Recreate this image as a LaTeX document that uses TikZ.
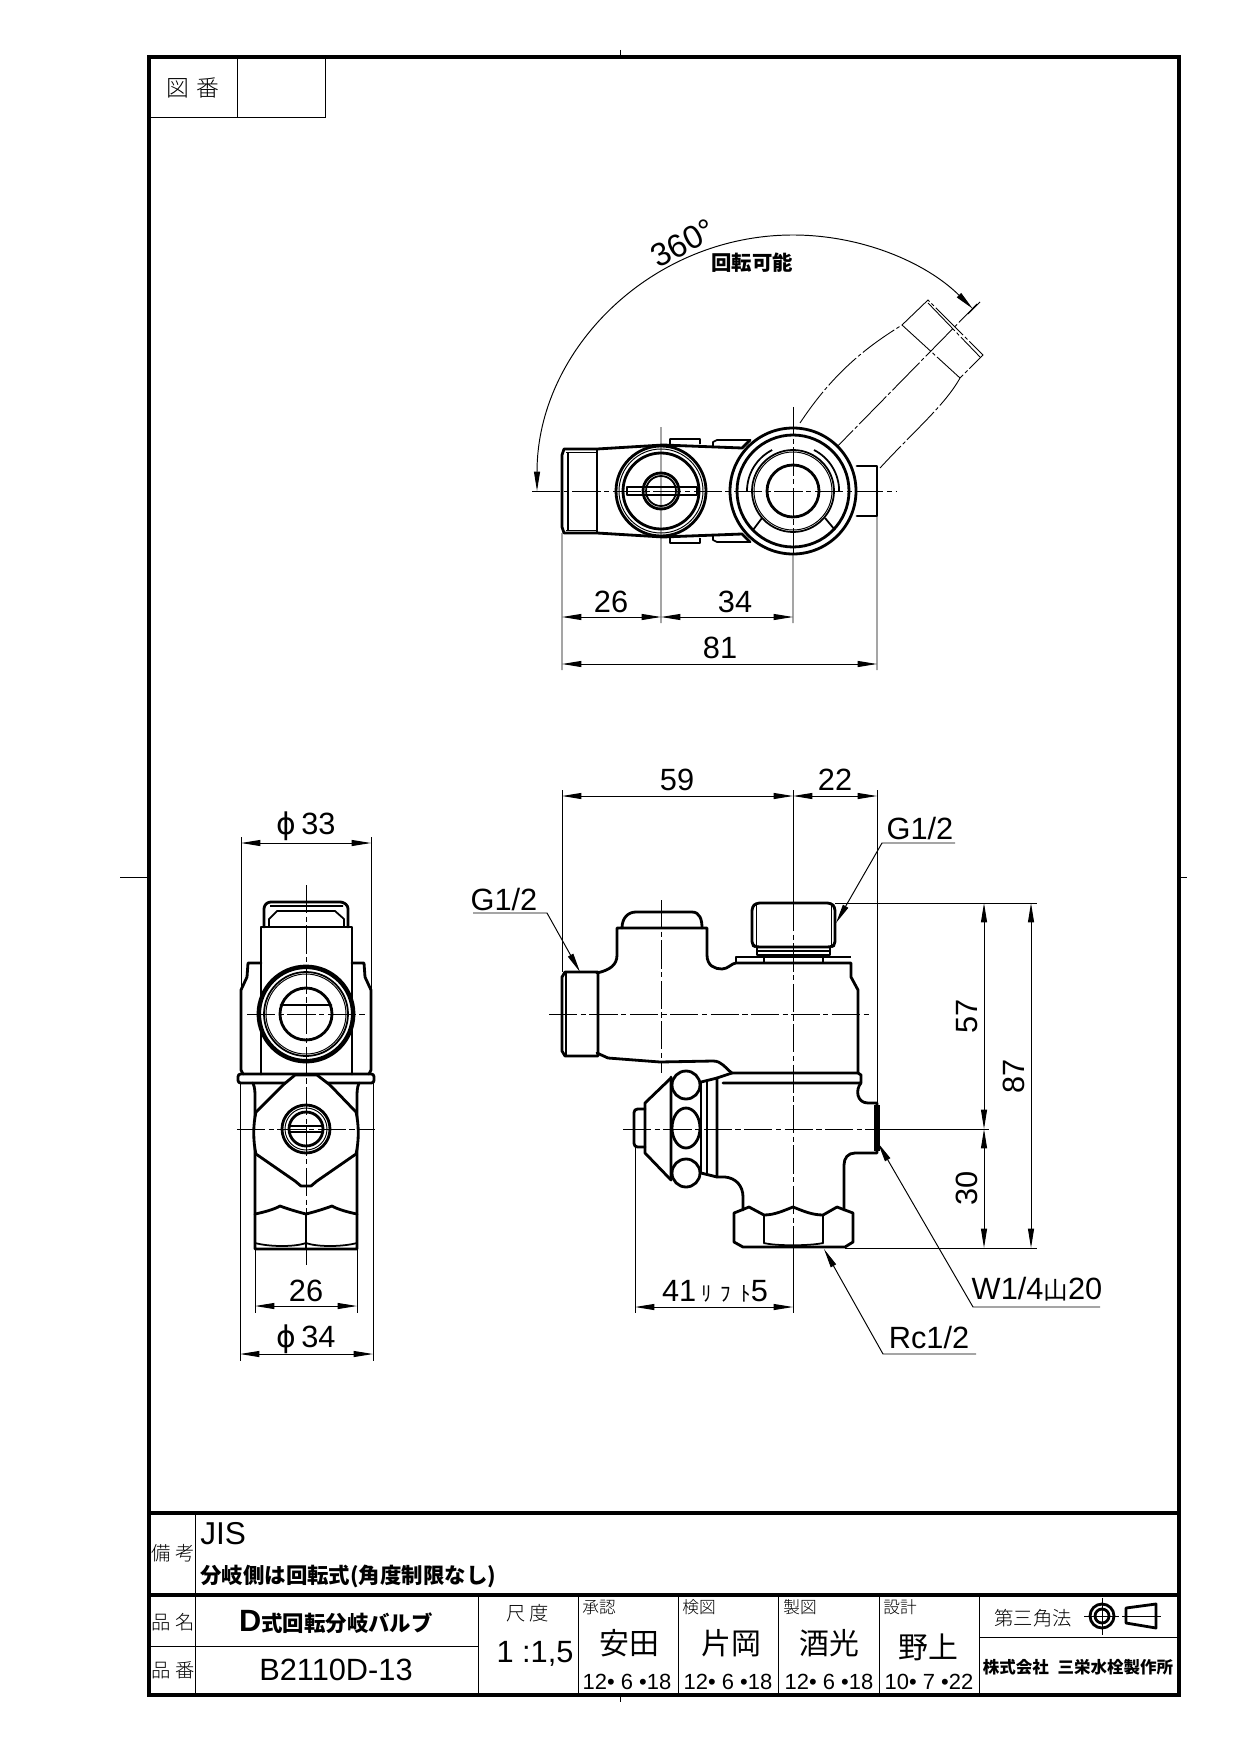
\documentclass[tikz,border=0pt]{standalone}
\usepackage{fontspec}
\usepackage{tikz}
\usetikzlibrary{arrows.meta}
\setmainfont{Liberation Sans}
\newfontfamily\jpfont{Noto Sans CJK JP}
\newfontfamily\jpthin{Noto Sans CJK JP Light}
\newfontfamily\symfont{DejaVu Sans}
\newcommand{\fs}[1]{\fontsize{#1}{#1}\selectfont}

\tikzset{
    bodyline/.style={line width=1.6pt,line join=round,line cap=round},
    midline/.style={line width=1pt,line join=round},
    thinline/.style={line width=.55pt},
    frameline/.style={line width=2pt},
    cline/.style={line width=.55pt,dash pattern=on 16pt off 2pt on 3pt off 2pt},
    phantomline/.style={line width=.5pt,dash pattern=on 22pt off 1.5pt on 2pt off 1.5pt},
    dimline/.style={line width=.55pt,{Triangle[length=11pt,width=3.4pt]}-{Triangle[length=11pt,width=3.4pt]}},
    leader/.style={line width=.55pt,-{Triangle[length=11pt,width=3.4pt]}},
    dimtext/.style={inner sep=0pt,font=\fs{17.5}},
    jptext/.style={inner sep=0pt,font=\jpthin\fs{11}},
    jpbold/.style={inner sep=0pt,font=\jpfont\bfseries\fs{12.2}},
    jpname/.style={inner sep=0pt,font=\jpfont\fs{17}},
    datetext/.style={inner sep=0pt,font=\fs{12.5}}
}

\begin{document}
\begin{tikzpicture}[x=.02cm,y=.02cm,yscale=-1]
    \useasboundingbox (0,0) rectangle (1241,1753);

    % sheet
    \draw[frameline] (149,57) rectangle (1179,1695);
    \draw[thinline] (620,50) -- (620,57) (620,1695) -- (620,1702) (120,877) -- (149,877) (1179,877) -- (1187,877);
    \draw[thinline] (149,117) -- (325,117) -- (325,57) (237,57) -- (237,117);
    \node[jptext,font=\jpthin\fs{13}] (zuban) at (193,88) {図\hspace{4pt}番};

    % title block
    \draw[frameline] (149,1513) -- (1179,1513) (149,1595) -- (1179,1595);
    \draw[thinline] (195,1513) -- (195,1695) (149,1646) -- (478,1646)
        (478,1595) -- (478,1695) (578,1595) -- (578,1695) (678,1595) -- (678,1695)
        (778,1595) -- (778,1695) (879,1595) -- (879,1695) (979,1595) -- (979,1695) (979,1637) -- (1179,1637);
    \node[jptext] (biko) at (173,1553) {備\hspace{3pt}考};
    \node[dimtext,font=\fs{18},anchor=west] (jis) at (200,1534) {JIS};
    \node[jpbold,anchor=west] (note) at (200,1576) {分岐側は回転式(角度制限なし)};
    \node[jptext] (hinmei) at (173,1622) {品\hspace{3pt}名};
    \node[jptext] (hinban) at (173,1670) {品\hspace{3pt}番};
    \node[jpbold] (name) at (336,1622) {{\fontspec{Liberation Sans}\fs{17.5}D}式回転分岐バルブ};
    \node[dimtext] (number) at (336,1670) {B2110D-13};
    \node[jptext] (shakudo) at (528,1613) {尺\hspace{2pt}度};
    \node[dimtext] (scale) at (535,1654) {1 :1,5};
    \node[jptext,font=\jpthin\fs{9.5},anchor=west] (shonin) at (582,1607) {承認};
    \node[jptext,font=\jpthin\fs{9.5},anchor=west] (kenzu) at (682,1607) {検図};
    \node[jptext,font=\jpthin\fs{9.5},anchor=west] (seizu) at (783,1607) {製図};
    \node[jptext,font=\jpthin\fs{9.5},anchor=west] (sekkei) at (883,1607) {設計};
    \node[jpname] (yasuda) at (629,1643) {安田};
    \node[jpname] (kataoka) at (731,1643) {片岡};
    \node[jpname] (sakko) at (829,1643) {酒光};
    \node[jpname] (nogami) at (928,1647) {野上};
    \node[datetext] (date1) at (627,1682) {12• 6 •18};
    \node[datetext] (date2) at (728,1682) {12• 6 •18};
    \node[datetext] (date3) at (829,1682) {12• 6 •18};
    \node[datetext] (date4) at (929,1682) {10• 7 •22};
    \node[jptext] (third) at (1033,1618) {第三角法};
    \node[jpbold,font=\jpfont\bfseries\fs{9.4}] (maker) at (1078,1667) {株式会社\hspace{5pt}三栄水栓製作所};
    \draw[bodyline] (1102,1616) circle[radius=12] (1102,1616) circle[radius=7];
    \draw[bodyline] (1126,1608) -- (1156,1604) -- (1156,1628) -- (1126,1623) -- cycle;
    \draw[thinline] (1084,1616) -- (1119,1616) (1102,1598) -- (1102,1635) (1122,1616) -- (1161,1616);

    % top view, swung outlet
    \draw[phantomline] (800,423) .. controls (835,370) and (870,345) .. (902,325) -- (928,300) -- (983,355) -- (960,378) .. controls (945,405) and (915,430) .. (880,468);
    \draw[phantomline] (902,325) -- (960,378) (928,303) -- (980,357) (826,458) -- (977,304);

    % top view, body
    \draw[bodyline] (562,455) -- (564,449) -- (597,449) -- (663,445) -- (742,448) -- (750,440)
        (562,455) -- (562,527) -- (564,533) -- (597,533) -- (663,537) -- (742,534) -- (750,542);
    \draw[line width=1.3pt] (568,452) -- (568,530) (597,449) -- (597,533);
    \draw[thinline] (566,452) -- (597,452) (566,530) -- (597,530);
    \draw[midline] (670,444) -- (670,439) -- (700,439) -- (700,444) (713,446) -- (713,442) -- (717,440) -- (750,440)
        (670,538) -- (670,543) -- (700,543) -- (700,538) (713,536) -- (713,540) -- (717,542) -- (750,542);
    \draw[bodyline] (857,466) -- (877,466) -- (877,516) -- (857,516);
    \draw[bodyline,fill=white] (661,491) circle[radius=45];
    \draw[bodyline] (661,491) circle[radius=38];
    \draw[thinline] (661,491) circle[radius=42];
    \draw[bodyline] (661,491) circle[radius=18];
    \draw[midline] (661,491) circle[radius=15];
    \draw[midline] (627,487) rectangle (697,495);
    \draw[bodyline,fill=white] (793,491) circle[radius=63];
    \draw[bodyline] (793,491) circle[radius=56];
    \draw[bodyline] (793,491) circle[radius=26];
    \draw[thinline] (793,491) circle[radius=39];
    \draw[midline] (793,491) circle[radius=41];
    \draw[midline] (747,491) arc[start angle=180,end angle=243,radius=46] (814,450) arc[start angle=297,end angle=360,radius=46];
    \draw[midline] (753,530) -- (762,518) (825,518) -- (835,530);

    % top view, centre lines and dimensions
    \draw[cline] (532,491) -- (896,491) (793,407) -- (793,555);
    \coordinate (tl) at (562,617);
    \coordinate (tm) at (661,617);
    \coordinate (tr) at (793,617);
    \coordinate (al) at (562,664);
    \coordinate (ar) at (877,664);
    \coordinate (arca) at (537,491);
    \draw[thinline] (562,533) -- (562,670) (661,427) -- (661,623) (793,555) -- (793,623) (877,516) -- (877,670) (980,302) -- (968,314);
    \path[dimline] (tl) edge (tm) (tm) edge (tr) (al) edge (ar);
    \draw[dimline] (arca) arc[start angle=180,end angle=314.6,radius=256];
    \node[dimtext,font=\fs{18.5},rotate=28] (turn) at (683,243) {360°};
    \node[jpbold,font=\jpfont\bfseries\fs{11.6}] (free) at (752,263) {回転可能};
    \node[dimtext] (l26) at (611,602) {26};
    \node[dimtext] (l34) at (735,602) {34};
    \node[dimtext] (l81) at (720,648) {81};

    % front view, knob
    \draw[bodyline] (671,1078) -- (645,1103) -- (645,1153) -- (671,1180);
    \draw[bodyline,rounded corners=2pt] (645,1109) -- (634,1109) -- (634,1147) -- (645,1147);
    \draw[bodyline] (671,1077) -- (671,1180) (717,1078) -- (717,1177) (701,1082) -- (717,1078) (701,1173) -- (717,1177);
    \draw[midline] (701,1082) -- (701,1173) (707,1081) -- (707,1174);
    \draw[bodyline,fill=white] (686,1085) circle[radius=14] (686,1173) circle[radius=14];
    \draw[bodyline,fill=white] (686,1128) ellipse[x radius=14,y radius=20];

    % front view, body
    \draw[bodyline] (597,973) .. controls (610,970) and (617,965) .. (617,955) -- (617,928) -- (707,928) -- (707,955) .. controls (707,966) and (715,969) .. (722,969) .. controls (728,969) and (732,963) .. (736,963) -- (851,963) -- (851,977) -- (858,990) -- (858,1073);
    \draw[bodyline] (597,1053) -- (608,1058) -- (660,1062) -- (713,1061) .. controls (722,1061) and (725,1068) .. (732,1073) -- (858,1073) -- (861,1075) -- (861,1083) -- (723,1083);
    \draw[bodyline] (732,1073) -- (717,1078);
    \draw[bodyline] (622,928) .. controls (622,918) and (628,912) .. (636,912) -- (692,912) .. controls (700,912) and (702,920) .. (702,928);
    \draw[bodyline] (562,977) -- (565,972) -- (598,972) -- (598,1056) -- (565,1056) -- (562,1051) -- cycle;
    \draw[midline] (566,972) -- (566,1056);
    \draw[bodyline,rounded corners=2pt] (756,947) -- (752,945) -- (752,907) -- (756,903) -- (831,903) -- (835,907) -- (835,945) -- (831,947) -- cycle;
    \draw[thinline] (756,905) -- (756,945) (831,905) -- (831,945);
    \draw[midline] (757,947) -- (757,955) -- (830,955) -- (830,947) (757,951) -- (830,951);
    \draw[midline] (736,963) -- (736,957) -- (851,957) (764,955) -- (764,963) (823,955) -- (823,963);
    \draw[bodyline] (861,1083) .. controls (855,1090) and (857,1103) .. (868,1103) -- (877,1103) -- (877,1153) -- (855,1153) .. controls (848,1153) and (844,1158) .. (844,1165) -- (844,1210);
    \draw[bodyline] (717,1177) -- (725,1177) .. controls (736,1178) and (743,1186) .. (743,1197) -- (743,1210);
    \draw[line width=3pt] (877,1105) -- (877,1151);

    % front view, nut
    \draw[bodyline] (734,1213) -- (749,1207) -- (764,1215) .. controls (775,1215) and (785,1210) .. (793,1207) .. controls (801,1210) and (811,1215) .. (823,1215) -- (837,1207) -- (853,1213)
        -- (853,1242) -- (845,1247) -- (743,1247) -- (734,1242) -- cycle;
    \draw[bodyline] (764,1215) -- (764,1243) (823,1215) -- (823,1243);
    \draw[midline] (764,1243) .. controls (775,1246) and (810,1246) .. (823,1243);

    % front view, centre lines and dimensions
    \draw[cline] (549,1014) -- (870,1014) (623,1129) -- (880,1129) (661,900) -- (661,1073) (793,903) -- (793,1248);
    \coordinate (fl) at (562,796);
    \coordinate (fm) at (793,796);
    \coordinate (fr) at (877,796);
    \coordinate (vs) at (984,903);
    \coordinate (vm) at (984,1129);
    \coordinate (ve) at (984,1248);
    \coordinate (ws) at (1031,903);
    \coordinate (we) at (1031,1248);
    \coordinate (ll) at (635,1307);
    \coordinate (lr) at (793,1307);
    \draw[thinline] (562,790) -- (562,972) (793,790) -- (793,903) (793,1248) -- (793,1313) (877,790) -- (877,1103) (835,903) -- (1037,903) (845,1248) -- (1037,1248) (880,1129) -- (989,1129) (635,1147) -- (635,1313);
    \path[dimline] (fl) edge (fm) (fm) edge (fr) (vs) edge (vm) (vm) edge (ve) (ws) edge (we) (ll) edge (lr);
    \node[dimtext] (l59) at (677,780) {59};
    \node[dimtext] (l22) at (835,780) {22};
    \node[dimtext,rotate=90] (l57) at (967,1016) {57};
    \node[dimtext,rotate=90] (l87) at (1014,1076) {87};
    \node[dimtext,rotate=90] (l30) at (967,1188) {30};
    \node[dimtext] (l41) at (715,1291) {41\hspace{3pt}{\jpfont\fs{12}ﾘ\hspace{5pt}ﾌ\hspace{5pt}ﾄ}5};

    % leaders
    \coordinate (gla) at (473,913);
    \coordinate (glb) at (547,913);
    \coordinate (glt) at (580,972);
    \coordinate (gra) at (955,843);
    \coordinate (grb) at (882,843);
    \coordinate (grt) at (836,923);
    \coordinate (wa) at (1100,1307);
    \coordinate (wb) at (973,1307);
    \coordinate (wt) at (878,1143);
    \coordinate (ra) at (976,1354);
    \coordinate (rb) at (883,1354);
    \coordinate (rt) at (824,1249);
    \draw[leader] (gla) -- (glb) -- (glt);
    \draw[leader] (gra) -- (grb) -- (grt);
    \draw[leader] (wa) -- (wb) -- (wt);
    \draw[leader] (ra) -- (rb) -- (rt);
    \node[dimtext] (gleft) at (504,900) {G1/2};
    \node[dimtext] (gright) at (920,829) {G1/2};
    \node[dimtext] (wthread) at (1037,1289) {W1/4{\jpfont\fs{14}山}20};
    \node[dimtext] (rthread) at (929,1337) {Rc1/2};

    % side view, body
    \draw[bodyline,rounded corners=1.5pt] (264,927) -- (264,906) -- (268,902) -- (343,902) -- (348,906) -- (348,927);
    \draw[midline] (269,927) -- (269,919) -- (277,911) -- (335,911) -- (344,919) -- (344,927) (270,906) -- (343,906);
    \draw[bodyline] (261,1074) -- (261,927) -- (352,927) -- (352,1074);
    \draw[bodyline] (261,963) -- (248,963) -- (247,977) -- (241,990) -- (241,1070) -- (243,1074) (352,963) -- (364,963) -- (365,977) -- (371,990) -- (371,1070) -- (369,1074);
    \draw[bodyline,rounded corners=1.5pt] (238,1074) rectangle (374,1083);
    \draw[bodyline] (253,1083) .. controls (255,1088) and (255,1092) .. (255,1097) -- (255,1249) -- (357,1249) -- (357,1097) .. controls (357,1092) and (357,1088) .. (359,1083);
    \draw[bodyline,fill=white] (256,1112) -- (283,1085) -- (295,1075) -- (317,1075) -- (330,1085) -- (356,1112) .. controls (359,1125) and (359,1141) .. (356,1154) -- (317,1181) -- (311,1186) -- (301,1186) -- (295,1181) -- (256,1154) .. controls (253,1141) and (253,1125) .. (256,1112) -- cycle;
    \draw[bodyline,fill=white] (306,1014) circle[radius=48];
    \draw[line width=1.2pt] (306,1014) circle[radius=46];
    \draw[thinline] (306,1014) circle[radius=40];
    \draw[midline] (306,1014) circle[radius=42];
    \draw[bodyline] (306,1014) circle[radius=26];
    \draw[bodyline] (281,1005) -- (331,1005);
    \draw[bodyline,fill=white] (306,1129) circle[radius=24];
    \draw[thinline] (306,1129) circle[radius=21];
    \draw[bodyline] (306,1129) circle[radius=17];
    \draw[midline] (289,1126) rectangle (323,1132);
    \draw[bodyline] (255,1214) .. controls (265,1212) and (275,1209) .. (280,1206) .. controls (288,1209) and (298,1212) .. (306,1214) .. controls (314,1212) and (324,1209) .. (332,1206) .. controls (337,1209) and (347,1212) .. (357,1214);
    \draw[midline] (255,1243) .. controls (270,1247) and (295,1247) .. (306,1243) .. controls (317,1247) and (342,1247) .. (357,1243) (306,1214) -- (306,1249);

    % side view, centre lines and dimensions
    \draw[cline] (247,1014) -- (366,1014) (237,1129) -- (375,1129) (306,885) -- (306,1265);
    \coordinate (sa) at (241,843);
    \coordinate (sb) at (371,843);
    \coordinate (sc) at (255,1306);
    \coordinate (sd) at (357,1306);
    \coordinate (se) at (240,1354);
    \coordinate (sf) at (373,1354);
    \draw[thinline] (241,837) -- (241,990) (371,837) -- (371,990) (255,1249) -- (255,1313) (357,1249) -- (357,1313) (240,1083) -- (240,1361) (373,1083) -- (373,1361);
    \path[dimline] (sa) edge (sb) (sc) edge (sd) (se) edge (sf);
    \node[dimtext] (d33) at (306,826) {{\symfont\fs{17}ϕ}\hspace{3pt}33};
    \node[dimtext] (l26b) at (306,1291) {26};
    \node[dimtext] (d34) at (306,1339) {{\symfont\fs{17}ϕ}\hspace{3pt}34};
\end{tikzpicture}
\end{document}
